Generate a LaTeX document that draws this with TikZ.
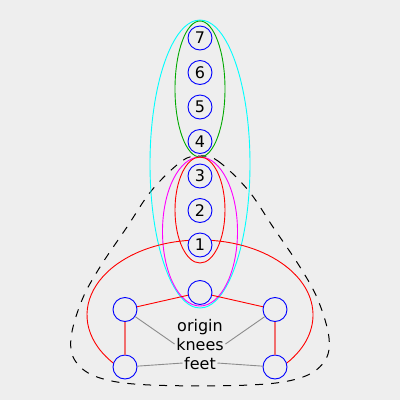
\documentclass[tikz,border=0pt]{standalone}
\usepackage{fontspec}
\setmainfont{DejaVu Sans}
\definecolor{bgc}{HTML}{EEEEEE}
\definecolor{grn}{RGB}{0,170,0}
\definecolor{cyn}{RGB}{0,255,255}
\definecolor{mag}{RGB}{255,0,255}
\definecolor{salmon}{RGB}{240,110,110}
\definecolor{gline}{RGB}{140,140,140}
\begin{document}
\begin{tikzpicture}[x=1pt,y=-1pt,
  vtx/.style={circle,draw=blue,fill=bgc,line width=0.9pt,minimum size=24pt,inner sep=0pt,font=\fontsize{16}{19}\selectfont},
  lbl/.style={inner sep=1.5pt,anchor=base,font=\fontsize{16}{19}\selectfont},
  hedge/.style={line width=0.9pt},
  thin/.style={red,line width=0.9pt},
  thick/.style={salmon,line width=2pt},
  pointer/.style={gline,line width=0.9pt}]
\fill[bgc] (0,0) rectangle (400,400);
\useasboundingbox (0,0) rectangle (400,400);
% dashed hyperedge
\draw[black,line width=1pt,dash pattern=on 8pt off 8pt]
  plot[smooth cycle,tension=0.6] coordinates {(200,156) (218,161) (248,190) (273,227) (300,267) (318,300) (329,338) (324,362) (300,378) (250,385) (150,385) (100,378) (76,362) (71,338) (82,300) (100,267) (127,227) (152,190) (182,161)};
% ellipses
\draw[hedge,cyn] (200,164) ellipse [x radius=50pt,y radius=144pt];
\draw[hedge,grn] (200,89) ellipse [x radius=25pt,y radius=68pt];
\draw[hedge,mag] (200,231.5) ellipse [x radius=37.5pt,y radius=74.5pt];
\draw[hedge,red] (200,210) ellipse [x radius=25pt,y radius=53pt];
% red hyperedge through 1 and the feet
\draw[hedge,red] (200,315) ++(-46:113pt and 75pt) arc[start angle=-46,end angle=226,x radius=113pt,y radius=75pt];
% vertices
\node[vtx] (n7) at (200,38) {7};
\node[vtx] (n6) at (200,72.5) {6};
\node[vtx] (n5) at (200,107) {5};
\node[vtx] (n4) at (200,141.5) {4};
\node[vtx] (n3) at (200,176) {3};
\node[vtx] (n2) at (200,210.5) {2};
\node[vtx] (n1) at (200,245) {1};
\node[vtx] (o) at (200,292.5) {};
\node[vtx] (lk) at (125,309.5) {};
\node[vtx] (rk) at (275,309.5) {};
\node[vtx] (lf) at (125,367) {};
\node[vtx] (rf) at (275,367) {};
% labels
\node[lbl] (or) at (200,331) {origin};
\node[lbl] (kn) at (200,350) {knees};
\node[lbl] (ft) at (200,369) {feet};
% edges
\draw[thin] (o) -- (lk);
\draw[thin] (o) -- (rk);
\draw[thick] (lk) -- (lf);
\draw[thick] (rk) -- (rf);
\draw[pointer] (lk) -- (kn.west);
\draw[pointer] (rk) -- (kn.east);
\draw[pointer] (lf) -- (ft.west);
\draw[pointer] (rf) -- (ft.east);
\end{tikzpicture}
\end{document}
